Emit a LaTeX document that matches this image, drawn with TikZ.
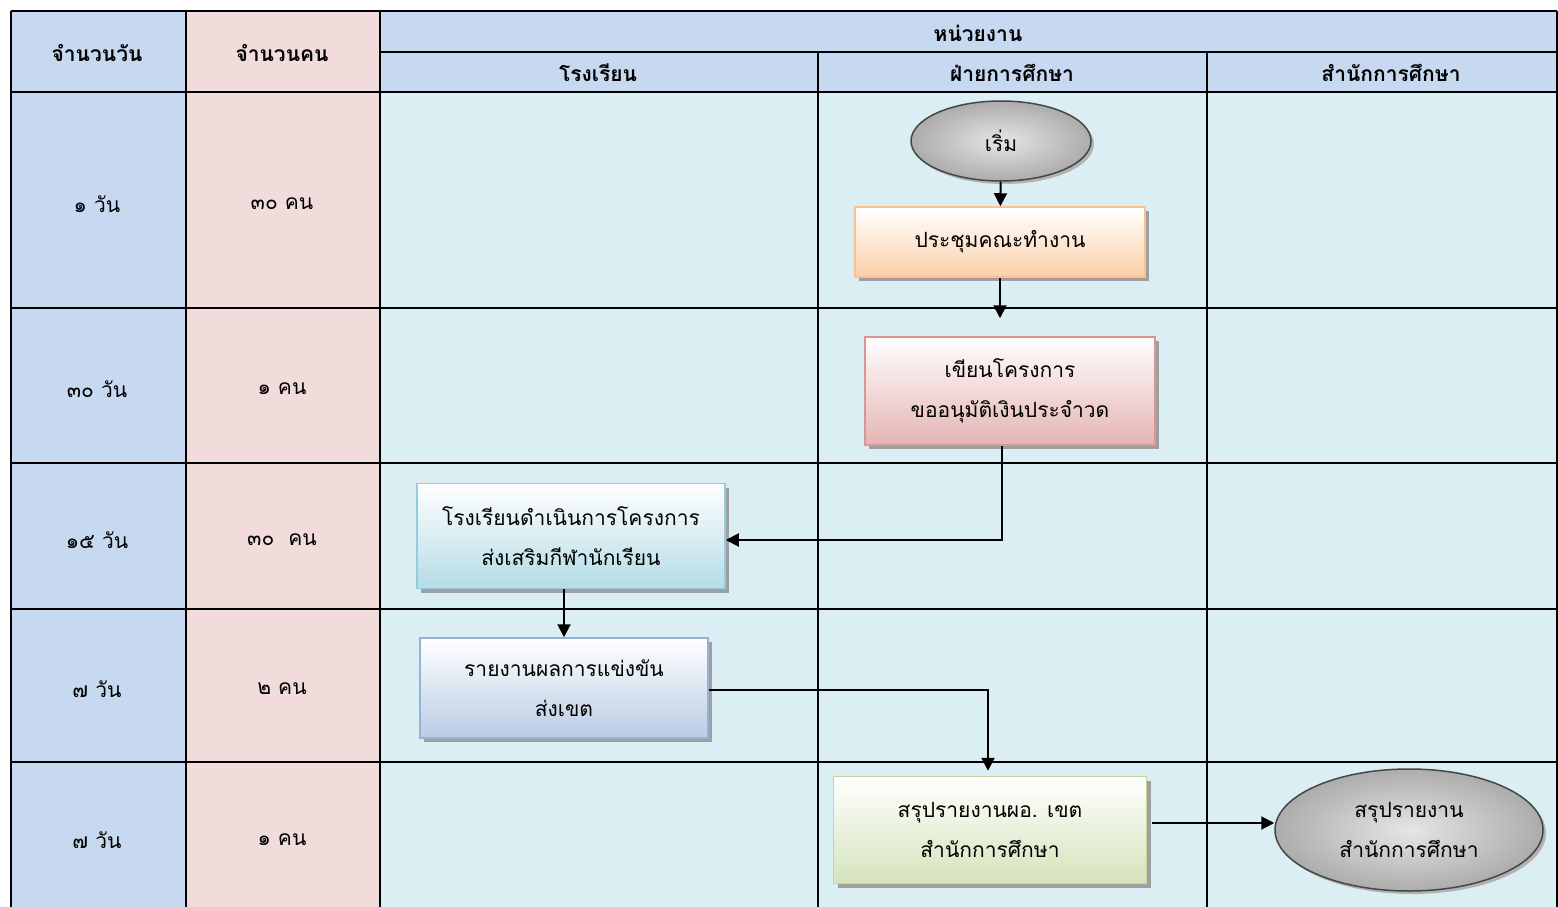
\documentclass[tikz,border=0pt]{standalone}
\usepackage{fontspec}
\setmainfont[Script=Thai]{Loma}
\usepackage{tikz}
\usetikzlibrary{arrows.meta, shadows, shapes.geometric}

\definecolor{dayblue}{HTML}{C6D9F0}
\definecolor{manpink}{HTML}{F2DCDB}
\definecolor{lanecyan}{HTML}{DAEEF3}
\definecolor{meetfill}{HTML}{FBD0A8}
\definecolor{meetline}{HTML}{FAC090}
\definecolor{writefill}{HTML}{E4B4B3}
\definecolor{writeline}{HTML}{D99694}
\definecolor{runfill}{HTML}{B4DCE6}
\definecolor{runline}{HTML}{93CDDD}
\definecolor{repfill}{HTML}{B9CCE4}
\definecolor{repline}{HTML}{95B3D7}
\definecolor{summfill}{HTML}{D5E3BA}
\definecolor{summline}{HTML}{C3D69B}

\begin{document}
\begin{tikzpicture}[x=1pt, y=-1pt,
  grid/.style={line width=2.5pt, black},
  head/.style={font=\fontsize{21}{24}\selectfont\bfseries},
  cell/.style={font=\fontsize{21}{24}\selectfont},
  box/.style={draw, line width=1.5pt, align=center, minimum width=290pt,
    font=\fontsize{21}{40}\selectfont,
    drop shadow={shadow xshift=4pt, shadow yshift=-4pt, fill=gray!75, opacity=1}},
  term/.style={ellipse, draw=gray!55!black, line width=1.5pt, align=center,
    font=\fontsize{21}{40}\selectfont, shading=radial,
    inner color=gray!20, outer color=gray!65,
    drop shadow={shadow xshift=3pt, shadow yshift=-3pt, fill=gray!60, opacity=1}},
  flow/.style={line width=2pt, -{Triangle[length=13pt, width=13pt]}}
]
  \useasboundingbox (0,0) rectangle (1558,907);

  % Columns and lanes
  \fill[dayblue] (11,11) rectangle (186,907);
  \fill[manpink] (186,11) rectangle (380,907);
  \fill[dayblue] (380,11) rectangle (1557,92);
  \fill[lanecyan] (380,92) rectangle (1557,907);

  % Grid lines
  \foreach \x in {11,186,380,1557}
    \draw[grid] (\x,11) -- (\x,907);
  \foreach \x in {818,1207}
    \draw[grid] (\x,52) -- (\x,907);
  \draw[grid] (11,11) -- (1557,11);
  \draw[grid] (380,52) -- (1557,52);
  \foreach \y in {92,308,463,609,762}
    \draw[grid] (11,\y) -- (1557,\y);

  % Header texts
  \node[head] at (97,53) {จำนวนวัน};
  \node[head] at (282,53) {จำนวนคน};
  \node[head] at (978,33) {หน่วยงาน};
  \node[head] at (598,73) {โรงเรียน};
  \node[head] at (1012,73) {ฝ่ายการศึกษา};
  \node[head] at (1391,73) {สำนักการศึกษา};

  % Days and people per row
  \foreach \y/\d/\p in {204/๑ วัน/๓๐ คน, 389/๓๐ วัน/๑ คน, 540/๑๕ วัน/๓๐~~คน,
                        689/๗ วัน/๒ คน, 840/๗ วัน/๑ คน} {
    \node[cell] at (97,\y) {\d};
    \node[cell] at (282,\y) {\p};
  }

  % Flow steps
  \node[term, minimum width=180pt, minimum height=80pt] (start) at (1001,141) {เริ่ม};
  \node[box, draw=meetline, top color=white, bottom color=meetfill,
    minimum height=70pt] (meet) at (1000,242) {ประชุมคณะทำงาน};
  \node[box, draw=writeline, top color=white, bottom color=writefill,
    minimum height=108pt] (write) at (1010,391) {เขียนโครงการ\\ขออนุมัติเงินประจำวด};
  \node[box, draw=runline, top color=white, bottom color=runfill,
    minimum width=308pt, minimum height=105pt] (run) at (571,536) {โรงเรียนดำเนินการโครงการ\\ส่งเสริมกีฬานักเรียน};
  \node[box, draw=repline, top color=white, bottom color=repfill,
    minimum width=288pt, minimum height=100pt] (report) at (564,688) {รายงานผลการแข่งขัน\\ส่งเขต};
  \node[box, draw=summline, top color=white, bottom color=summfill,
    minimum width=313pt, minimum height=107pt] (summ) at (990,830) {สรุปรายงานผอ. เขต\\สำนักการศึกษา};
  \node[term, minimum width=268pt, minimum height=122pt] (final) at (1409,830) {สรุปรายงาน\\สำนักการศึกษา};

  % Connectors
  \draw[flow] (start) -- (meet);
  \draw[flow, shorten >=18pt] (meet.south) -- (meet.south |- write.north);
  \draw[flow] ([xshift=-8pt]write.south) |- ([yshift=-4pt]run.east);
  \draw[flow] (run.south -| report.north) -- (report.north);
  \draw[flow, shorten >=5pt] ([yshift=-2pt]report.east) -| ([xshift=-2pt]summ.north);
  \draw[flow] ([xshift=5pt, yshift=7pt]summ.east) -- ([yshift=7pt]final.west);
\end{tikzpicture}
\end{document}
